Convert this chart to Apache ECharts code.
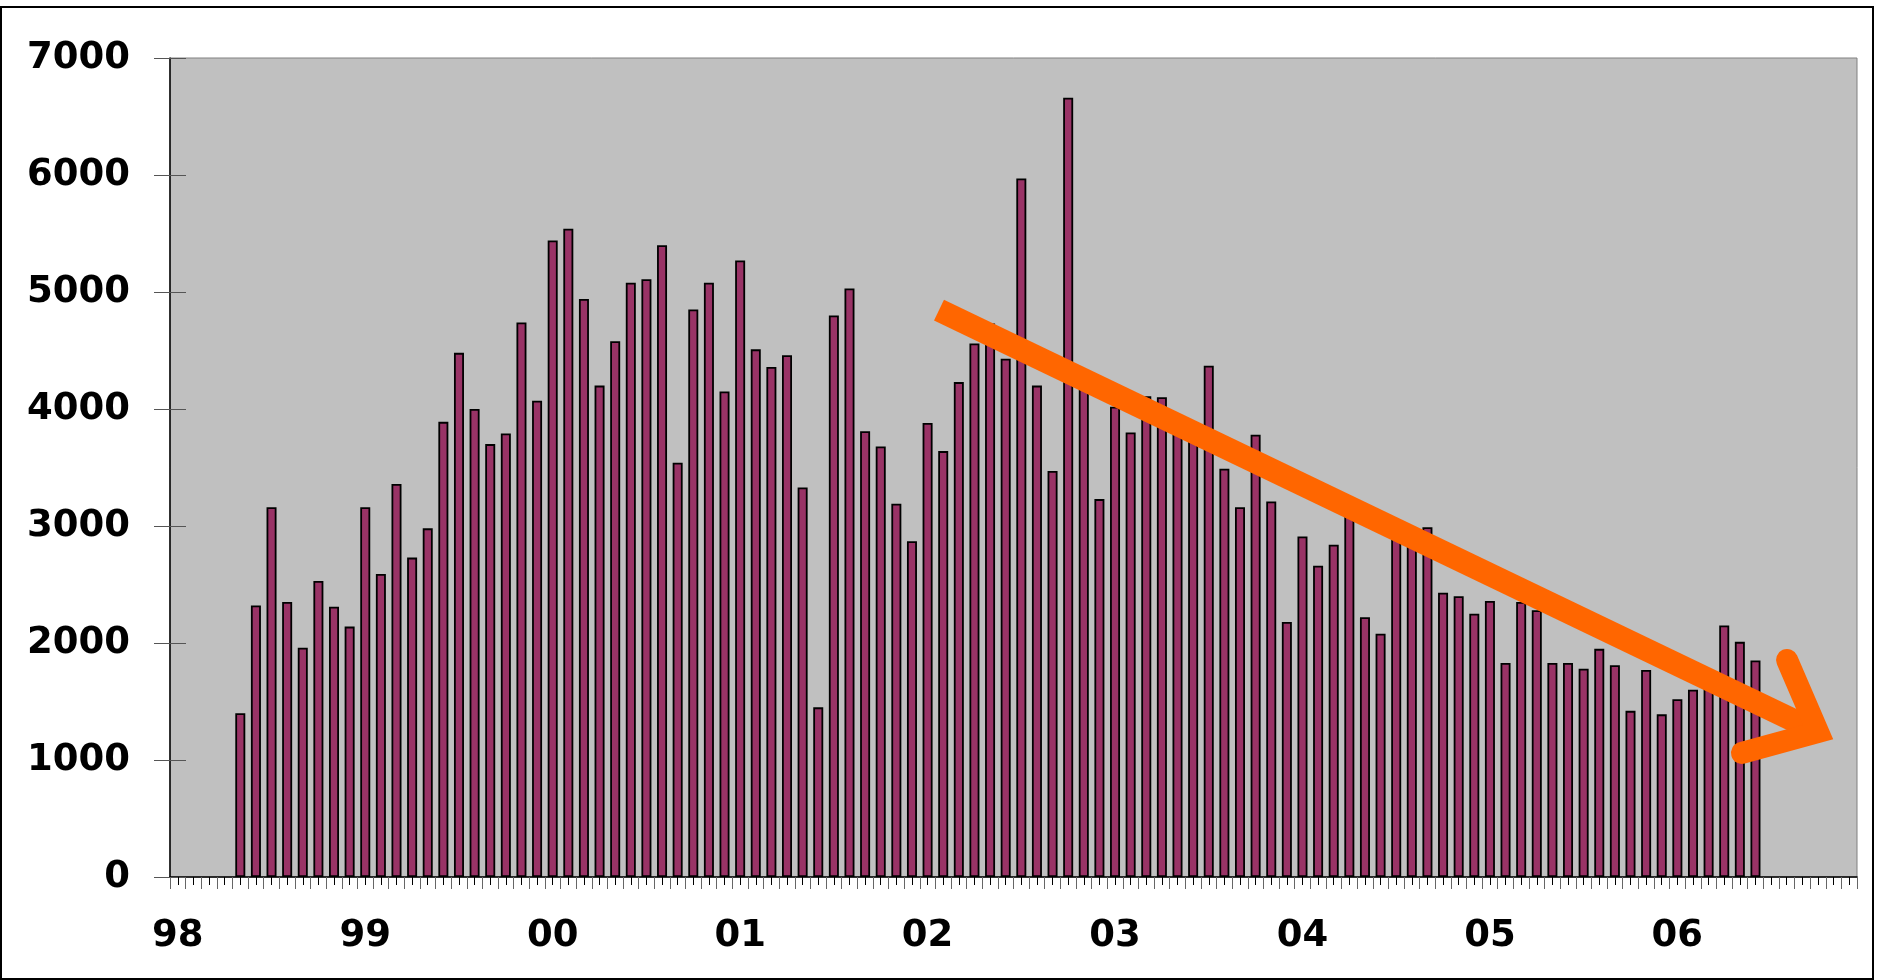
<!DOCTYPE html>
<html>
<head>
<meta charset="utf-8">
<script src="https://cdn.jsdelivr.net/npm/echarts@6/dist/echarts.min.js"></script>
<style>
  html, body { margin: 0; padding: 0; background: #fff; }
  #main { width: 1879px; height: 980px; }
</style>
</head>
<body>
<div id="main"></div>
<script>
  // tick labels (year) and months
  var yearLabels = ['98', '99', '00', '01', '02', '03', '04', '05', '06']
  var monthsPerYear = 12

  // monthly values, May 98 .. Jun 06
  var firstMonth = 4 // May 98
  var values = [
    1400, 2320, 3160, 2350, 1960, 2530, 2310, 2140,
    3160, 2590, 3360, 2730, 2980, 3890, 4480, 4000, 3700, 3790, 4740, 4070,
    5440, 5540, 4940, 4200, 4580, 5080, 5110, 5400, 3540, 4850, 5080, 4150,
    5270, 4510, 4360, 4460, 3330, 1450, 4800, 5030, 3810, 3680, 3190, 2870,
    3880, 3640, 4230, 4560, 4730, 4430, 5970, 4200, 3470, 6660, 4200, 3230,
    4020, 3800, 4110, 4100, 3820, 3760, 4370, 3490, 3160, 3780, 3210, 2180,
    2910, 2660, 2840, 3100, 2220, 2080, 2920, 2860, 2990, 2430, 2400, 2250,
    2360, 1830, 2350, 2280, 1830, 1830, 1780, 1950, 1810, 1420, 1770, 1390,
    1520, 1600, 1770, 2150, 2010, 1850
  ]

  // trend arrow in [month, value]
  var arrowShaft = [[49.23, 4846], [105.51, 1239]]
  var arrowHead = [[103.52, 1855], [105.51, 1239], [100.64, 1060]]

  var categories = []
  yearLabels.forEach(function (y) {
    for (var m = 1; m <= monthsPerYear; m++) categories.push(y + '/' + m)
  })
  var barData = categories.map(function (c, i) {
    var k = i - firstMonth
    return k >= 0 && k < values.length ? values[k] : null
  })
  var nMonths = categories.length

  var myChart = echarts.init(document.getElementById('main'))
  var labelFont = {
    color: '#000',
    fontFamily: 'DejaVu Sans',
    fontWeight: 'bold',
    fontSize: 37
  }

  var option = {
    animation: false,
    backgroundColor: '#fff',
    graphic: [
      {
        type: 'rect',
        shape: { x: 1, y: 7, width: 1872, height: 972 },
        style: { fill: null, stroke: '#000', lineWidth: 2 },
        silent: true
      }
    ],
    grid: {
      left: 170,
      right: 22,
      top: 58,
      bottom: 103,
      show: true,
      backgroundColor: '#C0C0C0',
      borderColor: '#808080',
      borderWidth: 1
    },
    xAxis: [
      {
        type: 'category',
        data: categories,
        axisLine: { onZero: false, lineStyle: { color: '#000', width: 1.5 } },
        axisTick: { inside: true, length: 12, interval: 0, lineStyle: { color: '#666' } },
        axisLabel: Object.assign({
          margin: 41,
          interval: function (index) { return index % monthsPerYear === 0 },
          formatter: function (v) { return v.split('/')[0] }
        }, labelFont),
        splitLine: { show: false }
      },
      {
        type: 'value',
        min: 0,
        max: nMonths,
        interval: 1,
        position: 'bottom',
        axisLine: { show: false, onZero: false },
        axisLabel: { show: false },
        axisTick: { show: true, length: 12, lineStyle: { color: '#666' } },
        minorTick: { show: true, splitNumber: 2, length: 8, lineStyle: { color: '#000' } },
        splitLine: { show: false }
      }
    ],
    yAxis: [
      {
        type: 'value',
        min: 0,
        max: 7000,
        interval: 1000,
        axisLine: { show: true, lineStyle: { color: '#000', width: 1.5 } },
        axisTick: { show: true, length: 16, lineStyle: { color: '#555' } },
        axisLabel: Object.assign({
          margin: 40,
          formatter: function (v) { return String(v) }
        }, labelFont),
        splitLine: { show: false }
      },
      {
        type: 'value',
        min: 0,
        max: 7000,
        interval: 1000,
        position: 'left',
        axisLine: { show: false },
        axisTick: { show: true, inside: true, length: 16, lineStyle: { color: '#555' } },
        axisLabel: { show: false },
        splitLine: { show: false }
      }
    ],
    series: [
      {
        type: 'bar',
        data: barData,
        barWidth: 10,
        itemStyle: { color: '#993366', borderColor: '#000', borderWidth: 1.8 }
      },
      {
        type: 'line',
        xAxisIndex: 1,
        data: arrowShaft,
        symbol: 'none',
        z: 5,
        lineStyle: { color: '#FF6600', width: 23, cap: 'butt' }
      },
      {
        type: 'line',
        xAxisIndex: 1,
        data: arrowHead,
        symbol: 'none',
        z: 5,
        lineStyle: { color: '#FF6600', width: 22, cap: 'round', join: 'miter' }
      }
    ]
  }

  myChart.setOption(option)
  window.addEventListener('resize', function () {
    myChart.resize()
  })
</script>
</body>
</html>
